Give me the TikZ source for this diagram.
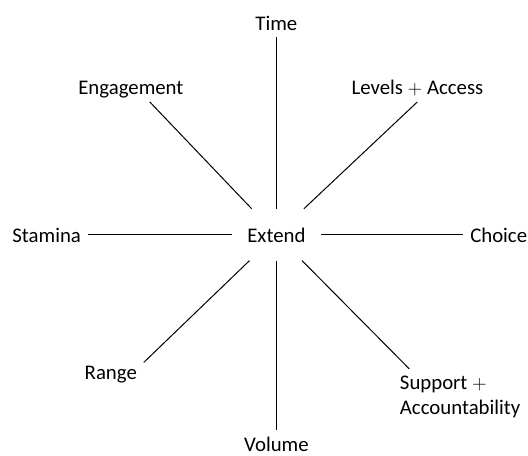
\documentclass[tikz,border=0pt]{standalone}
\usepackage[no-math]{fontspec}
\setmainfont{Carlito}
\begin{document}
\begin{tikzpicture}[x=0.75pt,y=0.75pt,
    font=\fontsize{15.6}{19.3}\selectfont,
    lbl/.style={inner sep=5pt,text height=11.7pt,text depth=0pt},
    hub/.style={lbl,minimum width=66.5pt,minimum height=38.5pt}]
      \useasboundingbox (-276.4,-220.3) rectangle (251.6,234.7);
      \draw
        (0,0) node[hub] (extend){Extend}
        (90:212.5) node[lbl] (time){Time}
        (46.3:204.1) node[lbl] (levels){Levels $+$ Access}
        (0:222.3) node[lbl] (choice){Choice}
        (302.9:214.7) node[inner sep=5pt,anchor=base west,align=left] (support){Support $+$\\Accountability}
        (270:208.5) node[lbl,inner ysep=4pt] (volume){Volume}
        (219.5:214.6) node[lbl] (range){Range}
        (180:229.7) node[lbl] (stamina){Stamina}
        (134.6:207.3) node[lbl] (engagement){Engagement};
      \begin{scope}[-,line width=0.75pt]
        \draw (extend) to (time);
        \draw (extend) to (levels.south);
        \draw (extend) to (choice);
        \draw (extend) to (support.151);
        \draw (extend) to (volume);
        \draw (extend) to (range.15);
        \draw (extend) to (stamina);
        \draw (extend) to (engagement.-38);
      \end{scope}
    \end{tikzpicture}
\end{document}
